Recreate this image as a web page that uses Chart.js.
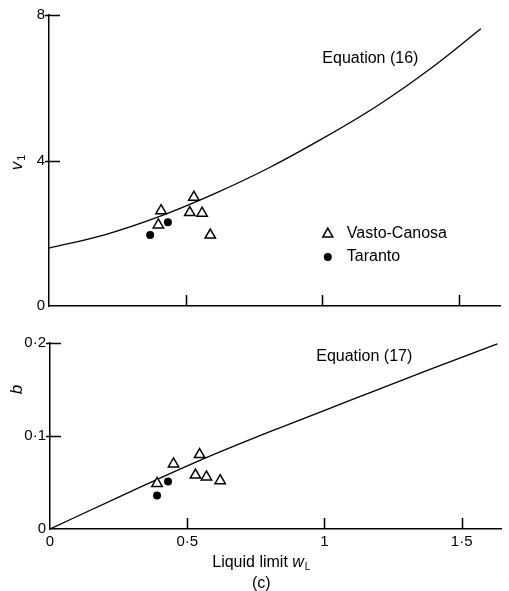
<!DOCTYPE html>
<html>
<head>
<meta charset="utf-8">
<script src="https://cdn.jsdelivr.net/npm/chart.js@4.4.1/dist/chart.umd.min.js"></script>
<style>
  body { margin: 0; background: #fff; }
  #wrap { position: relative; width: 509px; height: 591px; }
  canvas { position: absolute; left: 0; }
</style>
</head>
<body>
<div id="wrap">
  <canvas id="topChart" width="509" height="319" style="top:0"></canvas>
  <canvas id="bottomChart" width="509" height="272" style="top:319px"></canvas>
</div>
<script>
// upper panel: v1 against liquid limit
const eq16X = [0, 0.2, 0.4, 0.6, 0.8, 1.0, 1.2, 1.4, 1.58];
const eq16Y = [1.59, 1.95, 2.45, 3.07, 3.78, 4.6, 5.5, 6.55, 7.62];
const vastoX1 = [0.40, 0.41, 0.515, 0.53, 0.56, 0.59];
const vastoV1 = [2.23, 2.62, 2.57, 2.99, 2.55, 1.95];
const tarantoX1 = [0.37, 0.435];
const tarantoV1 = [1.95, 2.30];

// lower panel: b against liquid limit
const eq17X = [0, 0.27, 0.54, 0.83, 1.1, 1.37, 1.63];
const eq17Y = [0, 0.037, 0.073, 0.108, 0.139, 0.17, 0.199];
const vastoX2 = [0.39, 0.45, 0.53, 0.545, 0.57, 0.62];
const vastoB = [0.049, 0.070, 0.058, 0.080, 0.056, 0.052];
const tarantoX2 = [0.39, 0.43];
const tarantoB = [0.036, 0.051];

const FONT = '"Liberation Sans", Arial, sans-serif';

function pts(xs, ys) {
  return xs.map((x, i) => ({ x: x, y: ys[i] }));
}
function dotted(v) {
  return v === 0 ? '0' : String(+v.toFixed(2)).replace('.', '\u00b7');
}

// ticks pointing inwards, labels, axis titles
const decor = {
  id: 'decor',
  afterDraw(chart, args, opts) {
    const { ctx, chartArea: a, scales: { x, y } } = chart;
    ctx.save();
    ctx.strokeStyle = '#000';
    ctx.lineWidth = 1.5;
    ctx.beginPath();
    x.ticks.forEach(t => {
      if (t.value === 0) return;
      const px = Math.round(x.getPixelForValue(t.value)) + 0.5;
      ctx.moveTo(px, a.bottom);
      ctx.lineTo(px, a.bottom - 11);
    });
    y.ticks.forEach(t => {
      if (t.value === 0) return;
      const py = Math.round(y.getPixelForValue(t.value)) + 0.5;
      ctx.moveTo(a.left - 4, py);
      ctx.lineTo(a.left + 11, py);
    });
    ctx.stroke();

    ctx.fillStyle = '#000';
    ctx.textBaseline = 'middle';
    ctx.textAlign = 'left';
    ctx.font = '16px ' + FONT;
    ctx.fillText(opts.label, x.getPixelForValue(opts.labelAt[0]), y.getPixelForValue(opts.labelAt[1]));

    // y axis title, rotated
    ctx.save();
    ctx.translate(17, y.getPixelForValue(opts.titleAt));
    ctx.rotate(-Math.PI / 2);
    ctx.font = 'italic 17px ' + FONT;
    const w1 = ctx.measureText(opts.title).width;
    ctx.font = '11px ' + FONT;
    const w2 = opts.sub ? ctx.measureText(opts.sub).width + 1 : 0;
    let sx = -(w1 + w2) / 2;
    ctx.font = 'italic 17px ' + FONT;
    ctx.fillText(opts.title, sx, 0);
    if (opts.sub) {
      ctx.font = '11px ' + FONT;
      ctx.fillText(opts.sub, sx + w1 + 1, 5);
    }
    ctx.restore();

    if (opts.legend) {
      const lx = x.getPixelForValue(1.02);
      const ly1 = y.getPixelForValue(1.99);
      const ly2 = y.getPixelForValue(1.35);
      ctx.lineWidth = 1.5;
      ctx.beginPath();
      ctx.moveTo(lx, ly1 - 5.5);
      ctx.lineTo(lx + 5, ly1 + 3.5);
      ctx.lineTo(lx - 5, ly1 + 3.5);
      ctx.closePath();
      ctx.stroke();
      ctx.beginPath();
      ctx.arc(lx, ly2, 4, 0, Math.PI * 2);
      ctx.fill();
      ctx.font = '16px ' + FONT;
      ctx.fillText('Vasto-Canosa', lx + 19, ly1);
      ctx.fillText('Taranto', lx + 19, ly2);
    }

    if (opts.xTitle) {
      const cx = x.getPixelForValue(0.77);
      const ty = a.bottom + 34;
      ctx.font = '16px ' + FONT;
      const p1 = 'Liquid limit ';
      const wp1 = ctx.measureText(p1).width;
      ctx.font = 'italic 16px ' + FONT;
      const wp2 = ctx.measureText('w').width;
      ctx.font = '10px ' + FONT;
      const wp3 = ctx.measureText('L').width;
      let sx2 = cx - (wp1 + wp2 + wp3 + 1) / 2;
      ctx.font = '16px ' + FONT;
      ctx.fillText(p1, sx2, ty);
      ctx.font = 'italic 16px ' + FONT;
      ctx.fillText('w', sx2 + wp1, ty);
      ctx.font = '10px ' + FONT;
      ctx.fillText('L', sx2 + wp1 + wp2 + 1, ty + 4);
      ctx.font = '16px ' + FONT;
      ctx.textAlign = 'center';
      ctx.fillText('(c)', cx, a.bottom + 55);
    }
    ctx.restore();
  }
};

function datasets(curve, vasto, taranto) {
  return [
    {
      label: 'Vasto-Canosa',
      data: vasto,
      pointStyle: 'triangle',
      pointRadius: 6,
      pointBackgroundColor: '#fff',
      pointBorderColor: '#000',
      pointBorderWidth: 1.5
    },
    {
      label: 'Taranto',
      data: taranto,
      pointStyle: 'circle',
      pointRadius: 4,
      pointBackgroundColor: '#000',
      pointBorderColor: '#000',
      pointBorderWidth: 0
    },
    {
      label: 'Equation',
      data: curve,
      showLine: true,
      pointRadius: 0,
      borderColor: '#000',
      borderWidth: 1.3,
      cubicInterpolationMode: 'monotone'
    }
  ];
}

function scaleOpts(min, max, step, fmt, showLabels, width, height) {
  return {
    type: 'linear',
    min: min,
    max: max,
    grid: { display: false, drawTicks: false },
    border: { display: true, color: '#000', width: 1.5 },
    ticks: {
      stepSize: step,
      includeBounds: false,
      display: showLabels,
      padding: 4,
      color: '#000',
      font: { family: FONT, size: 15 },
      callback: fmt
    },
    afterFit(s) {
      if (width) s.width = width;
      if (height) s.height = height;
    }
  };
}

new Chart(document.getElementById('topChart'), {
  type: 'scatter',
  data: { datasets: datasets(pts(eq16X, eq16Y), pts(vastoX1, vastoV1), pts(tarantoX1, tarantoV1)) },
  options: {
    responsive: false,
    animation: false,
    layout: { padding: { top: 15, right: 9, left: 0, bottom: 0 } },
    plugins: {
      legend: { display: false },
      tooltip: { enabled: false },
      decor: { label: 'Equation (16)', labelAt: [1.0, 6.81], title: 'v', sub: '1', titleAt: 3.95, legend: true }
    },
    scales: {
      x: scaleOpts(0, 1.65, 0.5, v => dotted(v), false, 0, 10),
      y: scaleOpts(0, 8, 4, v => dotted(v), true, 49, 0)
    }
  },
  plugins: [decor]
});

new Chart(document.getElementById('bottomChart'), {
  type: 'scatter',
  data: { datasets: datasets(pts(eq17X, eq17Y), pts(vastoX2, vastoB), pts(tarantoX2, tarantoB)) },
  options: {
    responsive: false,
    animation: false,
    layout: { padding: { top: 24, right: 7, left: 0, bottom: 0 } },
    plugins: {
      legend: { display: false },
      tooltip: { enabled: false },
      decor: { label: 'Equation (17)', labelAt: [0.97, 0.185], title: 'b', sub: '', titleAt: 0.15, xTitle: true }
    },
    scales: {
      x: scaleOpts(0, 1.645, 0.5, v => dotted(v), true, 0, 62),
      y: scaleOpts(0, 0.2, 0.1, v => dotted(v), true, 50, 0)
    }
  },
  plugins: [decor]
});
</script>
</body>
</html>
